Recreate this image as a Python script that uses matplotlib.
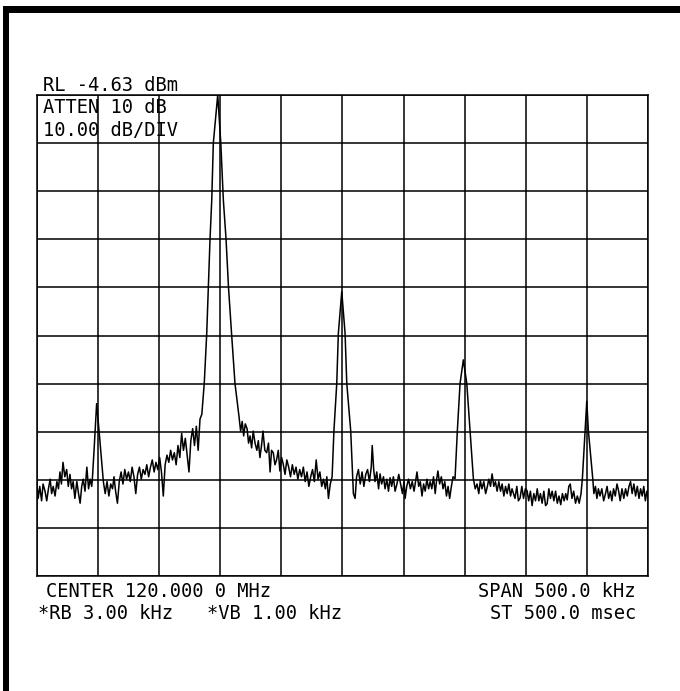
import matplotlib
matplotlib.use("Agg")
import matplotlib.pyplot as plt
from matplotlib.patches import Rectangle

# spectrum analyzer trace: offset from center (kHz) and level (dBm)
freq_khz = [
    -250.0, -248.8, -247.5, -246.0, -244.8, -243.2, -241.8, -240.4, -239.0, -237.8,
    -236.5, -235.0, -233.5, -232.2, -231.0, -229.8, -228.5, -227.0, -225.5, -224.2,
    -222.8, -221.5, -220.2, -218.8, -217.2, -215.8, -214.5, -213.2, -212.0, -210.5,
    -209.0, -207.6, -206.3, -205.0, -204.5, -203.0, -201.0, -199.0, -197.0, -195.5,
    -194.0, -192.5, -191.0, -189.5, -188.0, -186.8, -185.5, -184.0, -182.5, -181.0,
    -179.5, -178.0, -176.5, -175.0, -173.5, -172.0, -170.5, -169.0, -167.5, -166.0,
    -164.5, -163.0, -161.5, -160.0, -158.5, -157.0, -155.5, -154.0, -152.5, -151.0,
    -149.5, -148.0, -146.5, -145.0, -143.5, -142.0, -140.5, -139.0, -137.5, -136.0,
    -134.5, -133.0, -131.5, -130.0, -128.5, -127.0, -125.5, -124.0, -122.5, -121.0,
    -119.5, -118.0, -116.5, -115.0, -113.0, -111.0, -109.7, -108.3, -106.9, -105.6,
    -102.0, -99.5, -97.4, -95.2, -93.2, -90.7, -87.9, -84.6, -83.3, -82.0,
    -80.8, -79.5, -78.0, -76.8, -75.6, -74.3, -73.0, -71.5, -70.0, -68.8,
    -67.5, -66.2, -65.0, -63.5, -62.0, -60.5, -59.2, -58.0, -56.6, -55.2,
    -53.9, -52.5, -51.2, -49.8, -48.5, -47.0, -45.5, -44.0, -42.5, -41.0,
    -39.5, -38.0, -36.5, -35.0, -33.5, -32.0, -30.5, -29.0, -27.5, -26.0,
    -24.5, -23.0, -21.5, -20.0, -18.5, -17.0, -15.5, -14.0, -12.8, -11.5,
    -10.0, -8.5, -7.0, -4.7, -3.4, -0.6, 2.1, 3.5, 6.7, 8.9,
    10.3, 11.5, 13.0, 14.5, 16.0, 17.5, 19.0, 20.5, 22.0, 23.5,
    24.3, 25.5, 26.6, 28.0, 29.5, 30.7, 32.0, 33.5, 34.8, 36.2,
    37.6, 38.9, 40.2, 41.6, 43.0, 44.5, 46.0, 47.5, 49.0, 50.3,
    51.2, 52.5, 54.0, 55.5, 57.0, 58.5, 60.0, 60.9, 62.3, 63.6,
    65.0, 66.3, 67.6, 69.0, 70.4, 71.7, 73.0, 74.4, 75.8, 77.0,
    78.0, 79.4, 80.8, 82.2, 83.6, 85.0, 86.3, 87.6, 89.0, 90.4,
    92.0, 93.9, 96.1, 98.8, 101.6, 104.3, 107.0, 108.5, 110.0, 111.4,
    112.7, 114.0, 115.5, 117.0, 118.2, 119.6, 121.0, 122.3, 123.7, 125.0,
    126.4, 127.8, 129.2, 130.5, 131.9, 133.3, 134.6, 136.0, 137.4, 138.6,
    141.0, 142.5, 143.8, 145.2, 146.6, 148.0, 149.5, 150.9, 152.2, 153.6,
    155.0, 156.4, 157.8, 159.2, 160.5, 161.8, 163.2, 164.6, 166.0, 167.3,
    168.7, 170.0, 171.4, 172.8, 174.2, 175.6, 177.0, 178.4, 179.8, 181.2,
    182.5, 183.7, 185.0, 186.2, 187.6, 189.0, 190.5, 192.0, 193.5, 195.0,
    196.1, 198.3, 199.7, 201.0, 204.6, 205.5, 206.8, 208.0, 209.2, 210.5,
    212.0, 213.5, 215.0, 216.3, 217.6, 219.0, 220.2, 221.6, 223.0, 224.4,
    225.7, 227.0, 228.5, 230.0, 231.4, 232.8, 234.2, 235.5, 236.8, 238.2,
    239.6, 241.0, 242.4, 243.7, 245.0, 246.3, 247.6, 248.8, 250.0,
]
level_dbm = [
    -85.0, -88.5, -86.0, -89.0, -85.5, -87.0, -89.0, -86.5, -84.5, -87.5,
    -86.0, -88.0, -85.0, -86.5, -83.0, -85.5, -81.0, -84.0, -82.5, -86.0,
    -83.5, -86.5, -85.0, -88.5, -85.0, -87.5, -89.5, -86.0, -84.5, -87.0,
    -82.0, -86.5, -84.5, -86.0, -84.5, -78.0, -68.8, -74.5, -80.5, -85.0,
    -87.5, -85.0, -88.0, -85.5, -86.5, -84.0, -87.0, -89.5, -85.0, -83.0,
    -85.5, -82.5, -84.5, -83.0, -85.0, -82.0, -84.0, -87.5, -83.5, -82.0,
    -84.5, -82.5, -83.5, -81.5, -84.0, -82.0, -80.5, -83.0, -81.0, -82.5,
    -80.0, -83.0, -88.0, -81.5, -79.5, -81.0, -78.5, -80.5, -79.0, -81.5,
    -77.5, -80.0, -75.0, -78.5, -76.0, -79.5, -83.0, -76.5, -74.0, -77.5,
    -73.5, -78.5, -72.0, -71.0, -64.5, -54.2, -44.6, -34.6, -26.5, -14.6,
    -4.6, -14.6, -26.5, -34.6, -44.6, -54.2, -64.6, -71.5, -74.5, -72.5,
    -75.5, -73.0, -74.0, -77.0, -75.5, -78.0, -74.5, -77.0, -78.5, -76.5,
    -80.0, -77.5, -74.5, -78.5, -79.0, -77.0, -83.0, -78.5, -79.0, -81.5,
    -80.5, -78.5, -82.8, -80.0, -81.3, -83.5, -80.5, -82.0, -84.0, -81.5,
    -83.5, -82.0, -84.5, -82.5, -84.0, -82.0, -85.0, -83.0, -86.0, -84.0,
    -82.5, -85.0, -80.5, -84.5, -83.0, -86.0, -84.5, -86.5, -84.0, -88.5,
    -85.5, -84.0, -74.4, -64.6, -54.2, -45.5, -54.2, -64.6, -74.4, -87.5,
    -88.5, -84.0, -82.5, -85.5, -83.0, -86.0, -83.5, -82.5, -85.0, -82.0,
    -77.5, -82.5, -85.0, -83.0, -86.5, -83.4, -85.5, -84.0, -86.5, -84.5,
    -87.0, -84.2, -86.0, -84.0, -87.0, -85.5, -83.5, -85.5, -87.5, -85.0,
    -88.5, -86.0, -84.5, -86.5, -85.0, -87.0, -84.5, -83.0, -86.0, -85.0,
    -88.0, -85.5, -87.0, -84.5, -86.5, -85.0, -86.5, -84.0, -87.5, -84.5,
    -82.8, -85.5, -84.0, -86.5, -85.0, -88.0, -86.0, -88.5, -86.0, -84.0,
    -84.4, -74.4, -64.6, -59.7, -64.6, -74.4, -84.4, -86.5, -85.5, -87.5,
    -84.8, -86.5, -85.0, -87.5, -86.3, -84.5, -86.0, -83.4, -86.0, -85.0,
    -87.0, -85.0, -87.0, -85.5, -88.0, -86.0, -87.5, -85.5, -88.0, -86.5,
    -88.5, -86.0, -89.0, -88.4, -86.0, -88.5, -86.5, -86.9, -89.0, -87.0,
    -90.0, -87.5, -89.0, -86.5, -89.0, -87.5, -89.5, -87.0, -90.0, -89.6,
    -86.5, -88.5, -87.0, -89.0, -87.0, -89.5, -88.0, -89.8, -87.5, -89.0,
    -87.5, -88.8, -86.0, -85.5, -88.5, -87.0, -89.5, -88.0, -89.5, -87.5,
    -84.4, -74.4, -68.3, -74.4, -84.4, -87.5, -86.0, -88.5, -86.5, -88.0,
    -86.5, -89.0, -87.5, -86.0, -88.5, -87.0, -89.0, -86.5, -88.0, -85.5,
    -86.9, -89.0, -86.5, -88.5, -86.5, -88.0, -86.0, -85.0, -87.5, -85.5,
    -88.0, -86.0, -88.5, -86.5, -88.0, -86.0, -89.0, -87.0, -88.5,
]

ref_level = -4.63
db_per_div = 10.0
span_khz = 500.0

W, H = 680, 691
fig = plt.figure(figsize=(W / 100, H / 100), dpi=100)
fig.patch.set_facecolor("white")

# grid box in pixel positions
left, right, top, bottom = 36.7, 648.3, 95, 576
ax = fig.add_axes([left / W, 1 - bottom / H, (right - left) / W, (bottom - top) / H])
ax.plot(freq_khz, level_dbm, color="black", lw=1.1)
ax.set_xlim(-span_khz / 2, span_khz / 2)
ax.set_ylim(ref_level - 10 * db_per_div, ref_level)
ax.set_xticks([-250 + 50 * i for i in range(11)])
ax.set_yticks([ref_level - db_per_div * i for i in range(11)])
ax.grid(True, color="black", lw=1.1)
ax.tick_params(length=0, labelbottom=False, labelleft=False)
for s in ax.spines.values():
    s.set_linewidth(1.1)
    s.set_color("black")

# page border (top and left)
fig.add_artist(Rectangle((3 / W, 1 - 13 / H), 1, 7 / H, transform=fig.transFigure,
                         color="black", lw=0))
fig.add_artist(Rectangle((3 / W, 0), 6 / W, 1 - 6 / H, transform=fig.transFigure,
                         color="black", lw=0))

font = dict(family="DejaVu Sans Mono", fontsize=13.5, color="black", va="baseline")

def put(x, y, s, ha="left"):
    fig.text(x / W, 1 - y / H, s, ha=ha, **font)

put(43, 91, "RL -4.63 dBm")
put(43, 113, "ATTEN 10 dB")
put(43, 136, "10.00 dB/DIV")
put(46, 597, "CENTER 120.000 0 MHz")
put(636, 597, "SPAN 500.0 kHz", ha="right")
put(38, 619, "*RB 3.00 kHz")
put(207, 619, "*VB 1.00 kHz")
put(636, 619, "ST 500.0 msec", ha="right")

fig.savefig("out.png", dpi=100)
